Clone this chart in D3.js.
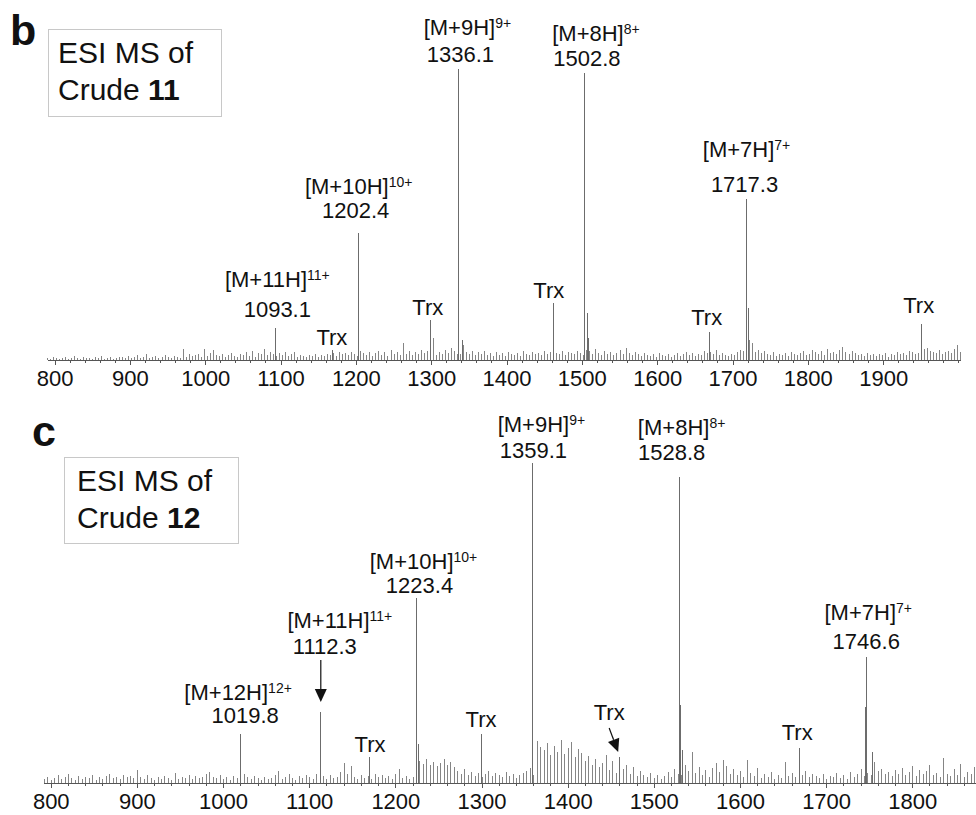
<html>
<head>
<meta charset="utf-8">
<script src="https://d3js.org/d3.v7.min.js"></script>
<style>
body { margin: 0; background: #fff; }
svg { display: block; }
text { font-family: "Liberation Sans", Arial, Helvetica, sans-serif; fill: #111; }
.axis path, .axis line { stroke: #555; shape-rendering: crispEdges; }
.axis text { font-family: "Liberation Sans", Arial, Helvetica, sans-serif; font-size: 22px; fill: #111; }
.peak { stroke: #6c6c6c; stroke-width: 1; shape-rendering: crispEdges; }
.noise { stroke: #858585; stroke-width: 1; shape-rendering: crispEdges; }
.lbl { font-size: 22px; }
</style>
</head>
<body>
<svg width="976" height="815"></svg>
<script>

// ---------- panel b : crude 11 ----------
var topTicks = [800, 900, 1000, 1100, 1200, 1300, 1400, 1500, 1600, 1700, 1800, 1900];
var topPeakMz  = [1093.1, 1168.2, 1202.4, 1298.2, 1336.1, 1340.5, 1461.4, 1502.8, 1506.6, 1508.0, 1668.4, 1717.3, 1720.2, 1949.8];
var topPeakInt = [32, 10, 127, 40, 291, 20, 57, 287, 47, 22, 28, 161, 52, 36];
var topIonMz     = [1093.1, 1202.4, 1336.1, 1502.8, 1717.3];
var topIonName   = ["[M+11H]", "[M+10H]", "[M+9H]", "[M+8H]", "[M+7H]"];
var topIonCharge = ["11+", "10+", "9+", "8+", "7+"];
var topTrxMz = [1168.2, 1298.2, 1461.4, 1668.4, 1949.8];
// background signal, one value every 4 m/z from 790
var topNoiseStart = 790, topNoiseStep = 4;
var topNoise = [
  2,1,3,2,1,2,3,1,2,4,2,1,3,2,2,1,3,2,4,1,2,3,1,2,3,
  3,2,4,2,3,5,2,3,6,2,3,4,2,3,5,3,2,4,3,2,11,3,6,4,5,
  6,3,11,4,7,10,5,4,6,3,5,7,4,3,6,5,8,4,9,3,7,6,11,5,8,
  6,4,7,5,8,4,6,8,3,5,4,3,5,4,6,3,5,4,6,5,7,4,8,6,7,
  5,8,6,4,9,7,5,8,4,7,9,5,8,4,10,6,8,5,17,6,9,5,8,6,10,
  7,9,6,22,5,8,6,10,7,12,9,6,6,15,8,6,9,5,8,6,9,5,7,4,8,
  5,7,4,8,6,5,7,4,9,6,5,8,6,7,5,9,6,8,10,7,6,9,5,8,7,
  6,9,7,5,10,9,6,11,7,5,9,6,8,5,7,10,6,12,7,5,8,6,4,7,5,
  4,6,3,7,5,4,6,3,5,7,4,6,8,5,7,4,6,5,9,7,8,6,10,5,7,
  5,4,6,5,8,10,9,6,20,17,8,10,7,9,6,5,8,4,6,5,7,4,8,6,5,
  7,9,5,6,10,8,6,9,5,11,7,8,6,10,13,8,6,9,7,5,6,4,7,5,6,
  4,6,5,7,3,6,5,8,6,7,5,9,8,6,7,5,11,12,9,8,7,10,6,8,9,
  7,11,15,8
];

// ---------- panel c : crude 12 ----------
var botTicks = [800, 900, 1000, 1100, 1200, 1300, 1400, 1500, 1600, 1700, 1800];
var botPeakMz  = [1019.8, 1112.3, 1169.5, 1223.4, 1226.0, 1299.5, 1359.1, 1459.8, 1528.8, 1530.6, 1532.9, 1668.8, 1745.2, 1746.6, 1753.5];
var botPeakInt = [49, 71, 26, 185, 39, 49, 320, 26, 306, 78, 33, 35, 76, 126, 31];
var botIonMz     = [1019.8, 1112.3, 1223.4, 1359.1, 1528.8, 1746.6];
var botIonName   = ["[M+12H]", "[M+11H]", "[M+10H]", "[M+9H]", "[M+8H]", "[M+7H]"];
var botIonCharge = ["12+", "11+", "10+", "9+", "8+", "7+"];
var botTrxMz = [1169.5, 1299.5, 1459.8, 1668.8];
var botNoiseStart = 792, botNoiseStep = 4;
var botNoise = [
  4,6,3,5,8,4,6,9,5,3,7,4,6,5,8,3,6,4,7,9,5,6,4,8,6,
  7,5,13,6,4,8,5,3,6,4,7,5,3,10,4,6,5,8,4,7,5,6,9,11,6,
  5,8,4,6,3,7,5,4,9,6,4,7,5,3,6,4,5,8,12,4,6,9,5,3,7,
  5,8,6,4,9,5,7,4,8,5,6,11,20,9,17,6,4,8,5,7,4,9,6,8,5,
  7,4,9,14,5,7,4,6,8,22,19,24,18,21,17,20,24,18,21,16,12,9,14,8,11,
  7,10,6,9,12,7,10,8,6,11,7,9,5,8,10,12,15,8,42,36,33,40,28,37,31,
  43,29,35,41,26,34,30,22,27,18,24,16,20,28,13,22,10,9,14,18,9,16,7,12,8,
  6,10,5,8,4,7,11,6,14,9,8,18,12,31,10,16,8,13,6,15,20,11,23,17,9,
  14,8,12,6,23,10,7,15,5,9,6,11,4,8,5,21,7,10,6,9,8,12,6,9,7,
  5,9,4,7,6,10,5,8,4,11,6,9,14,7,10,8,21,12,14,9,11,7,13,9,15,
  8,11,17,7,13,9,12,18,8,10,6,25,9,7,14,8,19,6,11,9,16
];

var svg = d3.select("svg");

function spectrum(p) {
    var x = d3.scaleLinear().domain(p.mzRange).range(p.xRange);
    var y = d3.scaleLinear().domain([0, 300]).range([p.base, p.base - 300]);
    var g = svg.append("g");

    var noise = p.noise.map(function(v, i) { return {mz: p.noiseStart + i * p.noiseStep, v: v}; });
    g.selectAll(".noise").data(noise).enter().append("line")
        .attr("class", "noise")
        .attr("x1", d => Math.round(x(d.mz)) + 0.5).attr("x2", d => Math.round(x(d.mz)) + 0.5)
        .attr("y1", y(0)).attr("y2", d => y(d.v));

    var peaks = p.peakMz.map(function(m, i) { return {mz: m, v: p.peakInt[i]}; });
    g.selectAll(".peak").data(peaks).enter().append("line")
        .attr("class", "peak")
        .attr("x1", d => Math.round(x(d.mz)) + 0.5).attr("x2", d => Math.round(x(d.mz)) + 0.5)
        .attr("y1", y(0)).attr("y2", d => y(d.v));

    // minor and major ticks
    g.append("g").attr("class", "axis")
        .attr("transform", "translate(0," + p.base + ")")
        .call(d3.axisBottom(x).tickValues(d3.range(800, p.mzRange[1], 20)).tickSize(3).tickFormat("").tickSizeOuter(0));
    g.append("g").attr("class", "axis")
        .attr("transform", "translate(0," + p.base + ")")
        .call(d3.axisBottom(x).tickValues(p.ticks).tickSize(5).tickPadding(5).tickSizeOuter(0).tickFormat(d3.format("d")));

    var intAt = function(m) { return p.peakInt[p.peakMz.indexOf(m)]; };

    // charge-state labels
    p.ionMz.forEach(function(m, i) {
        var L = p.ionLayout[i];
        var px = x(m), top = y(intAt(m));
        g.append("text").attr("class", "lbl")
            .attr("x", px + L[2]).attr("y", top - L[0])
            .attr("text-anchor", "middle").text(m.toFixed(1));
        var t = g.append("text").attr("class", "lbl")
            .attr("x", px + L[3]).attr("y", top - L[0] - L[1])
            .attr("text-anchor", "middle");
        t.append("tspan").text(p.ionName[i]);
        t.append("tspan").attr("font-size", 14).attr("dy", -7).text(p.ionCharge[i]);
    });

    p.trxMz.forEach(function(m, i) {
        var L = p.trxLayout[i];
        g.append("text").attr("class", "lbl")
            .attr("x", x(m) + L[1]).attr("y", y(intAt(m)) - L[0])
            .attr("text-anchor", "middle").text("Trx");
    });

    return {x: x, y: y, g: g, intAt: intAt};
}

function arrow(g, x0, y0, x1, y1) {
    var a = Math.atan2(y1 - y0, x1 - x0), len = 13, w = 6;
    var bx = x1 - len * Math.cos(a), by = y1 - len * Math.sin(a);
    g.append("line").attr("x1", x0).attr("y1", y0).attr("x2", bx).attr("y2", by)
        .attr("stroke", "#111").attr("stroke-width", 1.2);
    g.append("path")
        .attr("d", "M" + x1 + "," + y1 +
            "L" + (bx + w * Math.sin(a)) + "," + (by - w * Math.cos(a)) +
            "L" + (bx - w * Math.sin(a)) + "," + (by + w * Math.cos(a)) + "Z")
        .attr("fill", "#111");
}

function titleBox(x, y, w, h, num, tx, ty) {
    svg.append("rect").attr("x", x + 0.5).attr("y", y + 0.5).attr("width", w).attr("height", h)
        .attr("fill", "#fff").attr("stroke", "#c8c8c8").attr("stroke-width", 1);
    svg.append("text").attr("x", tx).attr("y", ty).attr("font-size", 30).text("ESI MS of");
    var t = svg.append("text").attr("x", tx).attr("y", ty + 37).attr("font-size", 30);
    t.append("tspan").text("Crude ");
    t.append("tspan").attr("font-weight", "bold").text(num);
}

// panel b
var b = spectrum({
    mzRange: [790, 2002], xRange: [47, 960], base: 360, ticks: topTicks,
    noise: topNoise, noiseStart: topNoiseStart, noiseStep: topNoiseStep,
    peakMz: topPeakMz, peakInt: topPeakInt,
    ionMz: topIonMz, ionName: topIonName, ionCharge: topIonCharge,
    // [lift above peak, gap to ion line, dx number, dx ion]
    ionLayout: [[11, 30, 2, 2], [15, 24, -2, 1], [7, 27, 2, 9], [7, 25, 3, 12], [7, 35, -1, 1]],
    trxMz: topTrxMz,
    trxLayout: [[5, 0], [5, -2], [5, -4], [7, -2], [11, -2]]
});

// panel c
var c = spectrum({
    mzRange: [791, 1874], xRange: [43, 976], base: 783, ticks: botTicks,
    noise: botNoise, noiseStart: botNoiseStart, noiseStep: botNoiseStep,
    peakMz: botPeakMz, peakInt: botPeakInt,
    ionMz: botIonMz, ionName: botIonName, ionCharge: botIonCharge,
    ionLayout: [[11, 23, 5, -2], [58, 26, 5, 20], [5, 24, 4, 8], [5, 26, 1, 9], [17, 25, -7, 3], [8, 29, 0, 2]],
    trxMz: botTrxMz,
    trxLayout: [[5, 1], [7, 0], [37, -10], [8, -2]]
});

// arrows in panel c
var m11 = 1112.3, xm = c.x(m11) + 1, tm = c.y(c.intAt(m11));
arrow(c.g, xm, tm - 52, xm, tm - 10);
var mt = 1459.8, xt = c.x(mt) - 1, tt = c.y(c.intAt(mt));
arrow(c.g, xt - 9, tt - 29, xt, tt - 5);

// panel letters and title boxes
svg.append("text").attr("x", 10).attr("y", 45).attr("font-size", 43).attr("font-weight", "bold").text("b");
svg.append("text").attr("x", 32).attr("y", 446).attr("font-size", 43).attr("font-weight", "bold").text("c");
titleBox(48, 29, 173, 87, "11", 58, 63);
titleBox(64, 457, 174, 86, "12", 77, 491);

</script>
</body>
</html>
